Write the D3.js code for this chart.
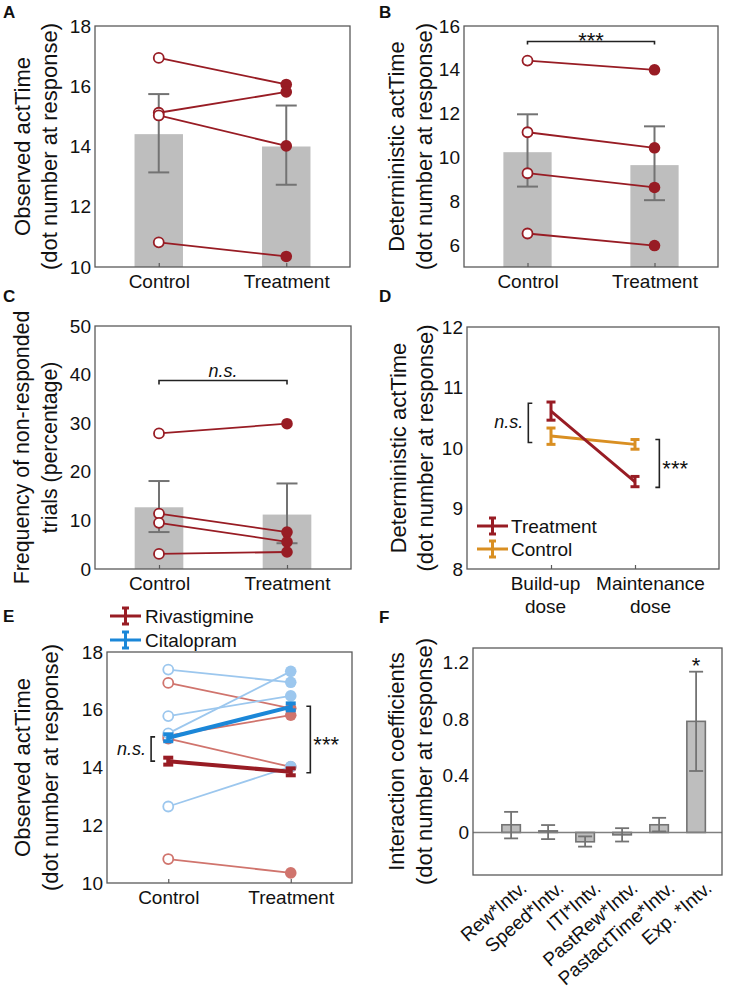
<!DOCTYPE html>
<html><head><meta charset="utf-8">
<script src="https://cdn.jsdelivr.net/npm/d3@7"></script>
<style>body{margin:0;background:#fff}</style>
</head><body><svg id="c" width="732" height="992"></svg>
<script>
// ---------------- DATA ----------------
const groups = ["Control", "Treatment"];
// Panel A
const aMean = [14.41, 14.0], aHi = [15.74, 15.36], aLo = [13.14, 12.73];
const aCtrl = [16.94, 15.12, 15.03, 10.82], aTreat = [16.06, 15.81, 14.02, 10.35];
const aTicks = [10, 12, 14, 16, 18];
// Panel B
const bMean = [10.24, 9.65], bHi = [11.97, 11.42], bLo = [8.67, 8.05];
const bCtrl = [14.42, 11.15, 9.28, 6.53], bTreat = [14.0, 10.44, 8.63, 5.98];
const bTicks = [6, 8, 10, 12, 14, 16];
const bSig = {level: 15.29, text: "***"};
// Panel C
const cMean = [12.7, 11.2], cHi = [18.1, 17.6], cLo = [7.6, 5.3];
const cCtrl = [27.9, 11.4, 9.5, 3.1], cTreat = [29.9, 7.6, 5.6, 3.5];
const cTicks = [0, 10, 20, 30, 40, 50];
const cSig = {level: 38.8, text: "n.s."};
// Panel D
const doses = [["Build-up", "dose"], ["Maintenance", "dose"]];
const dTreatMean = [10.61, 9.44], dTreatHi = [10.76, 9.53], dTreatLo = [10.46, 9.36];
const dCtrlMean = [10.20, 10.06], dCtrlHi = [10.33, 10.14], dCtrlLo = [10.06, 9.98];
const dTicks = [8, 9, 10, 11, 12];
const dLegend = ["Treatment", "Control"];
const dNs = {x: 0.73, lo: 10.09, hi: 10.74, text: "n.s."};
const dStar = {x: 2.29, lo: 9.35, hi: 10.14, text: "***"};
// Panel E
const eRivaCtrl = [16.93, 15.10, 15.00, 10.83], eRivaTreat = [16.05, 15.81, 14.02, 10.35];
const eCitaCtrl = [17.39, 15.78, 15.18, 12.65], eCitaTreat = [16.95, 16.48, 17.33, 14.03];
const eRivaMean = [14.22, 13.85], eCitaMean = [15.03, 16.10];
const eErr = 0.12;
const eTicks = [10, 12, 14, 16, 18];
const eLegend = ["Rivastigmine", "Citalopram"];
const eNs = {x: 0.86, lo: 14.22, hi: 15.06, text: "n.s."};
const eStar = {x: 2.16, lo: 13.82, hi: 16.12, text: "***"};
// Panel F
const fCats = ["Rew*Intv.", "Speed*Intv.", "ITI*Intv.", "PastRew*Intv.", "PastactTime*Intv.", "Exp. *Intv."];
const fVals = [0.054, 0.011, -0.066, -0.017, 0.054, 0.783];
const fHi = [0.145, 0.052, -0.028, 0.030, 0.103, 1.133];
const fLo = [-0.042, -0.047, -0.100, -0.064, 0.007, 0.433];
const fTicks = [0, 0.4, 0.8, 1.2];
const fTickLabels = ["0", "0.4", "0.8", "1.2"];
const fSigIdx = 5, fSigText = "*";

// ---------------- STYLE ----------------
const FONT = 19, LFONT = 22, SFONT = 22, NSFONT = 18;
const FAM = '"Liberation Sans", Arial, Helvetica, sans-serif';
const DARKRED = "#981c24", LIGHTRED = "#d0746d", LIGHTBLUE = "#9cc7ee", BLUE = "#1b87d8", ORANGE = "#d98f22";
const GREYBAR = "#bebebe", GREYERR = "#737373", BOXC = "#5a5a5a", TXT = "#111";

const svg = d3.select("#c").attr("font-family", FAM);

function scales(b, xDom, yDom) {
  return {x: d3.scaleLinear().domain(xDom).range([b.l, b.r]),
          y: d3.scaleLinear().domain(yDom).range([b.b, b.t])};
}
function box(b) {
  svg.append("rect").attr("x", b.l).attr("y", b.t).attr("width", b.r - b.l).attr("height", b.b - b.t)
    .attr("fill", "none").attr("stroke", BOXC).attr("stroke-width", 1.3);
}
function yAxis(b, y, ticks, fmt) {
  const g = svg.append("g").attr("transform", `translate(${b.l},0)`)
    .call(d3.axisLeft(y).tickValues(ticks).tickSize(0).tickPadding(4).tickFormat(fmt || d3.format("d")));
  g.select(".domain").remove();
  g.attr("font-size", FONT).attr("font-family", FAM);
  g.selectAll("text").attr("fill", TXT);
  return g;
}
function xAxis(b, x, ticks, fmt, tick) {
  const g = svg.append("g").attr("transform", `translate(0,${b.b})`)
    .call(d3.axisBottom(x).tickValues(ticks).tickSize(-tick).tickPadding(8).tickFormat(fmt));
  g.select(".domain").remove();
  g.attr("font-size", FONT).attr("font-family", FAM);
  g.selectAll("line").attr("stroke", BOXC).attr("stroke-width", 1.2);
  g.selectAll("text").attr("fill", TXT);
  return g;
}
function yLabel(lines, xs, b, fs) {
  const yc = (b.t + b.b) / 2;
  lines.forEach((t, i) => {
    svg.append("text").attr("transform", `translate(${xs[i]},${yc}) rotate(-90)`)
      .attr("text-anchor", "middle").attr("dominant-baseline", "central")
      .attr("font-size", fs || LFONT).attr("fill", TXT).text(t);
  });
}
function letter(t, x, y) {
  svg.append("text").attr("x", x).attr("y", y).attr("font-size", 17).attr("font-weight", "bold").attr("fill", TXT).text(t);
}
function errBar(g, x, lo, hi, cap, color, w) {
  g.append("line").attr("x1", x).attr("x2", x).attr("y1", lo).attr("y2", hi).attr("stroke", color).attr("stroke-width", w);
  [lo, hi].forEach(v => g.append("line").attr("x1", x - cap / 2).attr("x2", x + cap / 2).attr("y1", v).attr("y2", v)
    .attr("stroke", color).attr("stroke-width", w));
}
function hBracket(x1, x2, yv, tick, text, italic) {
  const g = svg.append("g");
  g.append("path").attr("d", `M${x1},${yv + tick}V${yv}H${x2}V${yv + tick}`).attr("fill", "none").attr("stroke", "#222").attr("stroke-width", 1.6);
  const t = g.append("text").attr("x", (x1 + x2) / 2).attr("text-anchor", "middle").attr("fill", TXT).text(text);
  if (italic) t.attr("y", yv - 3.5).attr("font-style", "italic").attr("font-size", NSFONT);
  else t.attr("y", yv + 6).attr("font-size", SFONT);
}
function vBracket(xv, y1, y2, dir, text, italic) {
  const tk = 4 * dir;
  svg.append("path").attr("d", `M${xv + tk},${y1}H${xv}V${y2}H${xv + tk}`).attr("fill", "none").attr("stroke", "#222").attr("stroke-width", 1.6);
  const ym = (y1 + y2) / 2;
  const t = svg.append("text").attr("fill", TXT).text(text);
  if (dir > 0) t.attr("x", xv - 5).attr("y", ym + 5.5).attr("text-anchor", "end");
  else t.attr("x", xv + 3).attr("y", ym + 12.5).attr("text-anchor", "start");
  if (italic) t.attr("font-style", "italic").attr("font-size", NSFONT); else t.attr("font-size", SFONT);
}

// ---------- Bar + paired dot panels (A, B, C) ----------
function pairedPanel(b, mean, hi, lo, ctrl, treat, yDom, ticks) {
  const {x, y} = scales(b, [0.5, 2.5], yDom);
  const g = svg.append("g");
  const bw = 0.19;
  mean.forEach((m, i) => {
    g.append("rect").attr("x", x(i + 1 - bw)).attr("width", x(i + 1 + bw) - x(i + 1 - bw))
      .attr("y", y(m)).attr("height", y(yDom[0]) - y(m)).attr("fill", GREYBAR);
  });
  mean.forEach((m, i) => errBar(g, x(i + 1), y(lo[i]), y(hi[i]), 21, GREYERR, 2));
  ctrl.forEach((c, k) => {
    g.append("line").attr("x1", x(1)).attr("x2", x(2)).attr("y1", y(c)).attr("y2", y(treat[k]))
      .attr("stroke", DARKRED).attr("stroke-width", 1.8);
  });
  ctrl.forEach(c => g.append("circle").attr("cx", x(1)).attr("cy", y(c)).attr("r", 5).attr("fill", "#fff").attr("stroke", DARKRED).attr("stroke-width", 1.8));
  treat.forEach(c => g.append("circle").attr("cx", x(2)).attr("cy", y(c)).attr("r", 5.8).attr("fill", DARKRED));
  box(b);
  yAxis(b, y, ticks);
  xAxis(b, x, [1, 2], (d, i) => groups[i], 4);
  return {x, y};
}

const bA = {l: 95, r: 350, t: 26, b: 267};
pairedPanel(bA, aMean, aHi, aLo, aCtrl, aTreat, [10, 18], aTicks);
yLabel(["Observed actTime", "(dot number at response)"], [22, 49], bA);
letter("A", 3, 18);

const bB = {l: 464, r: 718, t: 26, b: 267};
const sB = pairedPanel(bB, bMean, bHi, bLo, bCtrl, bTreat, [5, 16], bTicks);
hBracket(sB.x(1), sB.x(2), sB.y(bSig.level), 3, bSig.text, false);
yLabel(["Deterministic actTime", "(dot number at response)"], [396, 424], bB);
letter("B", 379, 18);

const bC = {l: 95, r: 351, t: 326, b: 569};
const sC = pairedPanel(bC, cMean, cHi, cLo, cCtrl, cTreat, [0, 50], cTicks);
hBracket(sC.x(1), sC.x(2), sC.y(cSig.level), 4, cSig.text, true);
yLabel(["Frequency of non-responded", "trials (percentage)"], [22, 50], bC, 21.3);
letter("C", 3, 302);

// ---------- Panel D ----------
const bD = {l: 467, r: 719, t: 327, b: 569};
(function () {
  const {x, y} = scales(bD, [0, 3], [8, 12]);
  const g = svg.append("g");
  const series = [
    {mean: dCtrlMean, hi: dCtrlHi, lo: dCtrlLo, c: ORANGE},
    {mean: dTreatMean, hi: dTreatHi, lo: dTreatLo, c: DARKRED}
  ];
  series.forEach(s => {
    g.append("path").attr("d", d3.line().x((d, i) => x(i + 1)).y(d => y(d))(s.mean))
      .attr("fill", "none").attr("stroke", s.c).attr("stroke-width", 3);
    s.mean.forEach((m, i) => errBar(g, x(i + 1), y(s.lo[i]), y(s.hi[i]), 9, s.c, 3));
  });
  const lc = [DARKRED, ORANGE];
  dLegend.forEach((t, i) => {
    const ly = 526 + i * 23;
    g.append("line").attr("x1", 477).attr("x2", 508).attr("y1", ly).attr("y2", ly).attr("stroke", lc[i]).attr("stroke-width", 3);
    errBar(g, 492.5, ly + 8, ly - 8, 7, lc[i], 3);
    g.append("text").attr("x", 511).attr("y", ly + 7).attr("font-size", FONT).attr("fill", TXT).text(t);
  });
  box(bD);
  yAxis(bD, y, dTicks);
  const xa = xAxis(bD, x, [1, 2], () => "", 4);
  xa.selectAll("text").each(function (d, i) {
    const t = d3.select(this).attr("dy", null).attr("y", 21);
    doses[i].forEach((s, k) => t.append("tspan").attr("x", 0).attr("dx", i === 0 ? -6 : 15).attr("dy", k === 0 ? 0 : 23).text(s));
  });
  vBracket(x(dNs.x), y(dNs.hi), y(dNs.lo), 1, dNs.text, true);
  vBracket(x(dStar.x), y(dStar.hi), y(dStar.lo), -1, dStar.text, false);
})();
yLabel(["Deterministic actTime", "(dot number at response)"], [398, 425], bD);
letter("D", 379, 302);

// ---------- Panel E ----------
const bE = {l: 107, r: 352, t: 652, b: 883};
(function () {
  const {x, y} = scales(bE, [0.5, 2.5], [10, 18]);
  const g = svg.append("g");
  const ind = [
    {c: eRivaCtrl, t: eRivaTreat, col: LIGHTRED},
    {c: eCitaCtrl, t: eCitaTreat, col: LIGHTBLUE}
  ];
  ind.forEach(s => s.c.forEach((v, k) => g.append("line").attr("x1", x(1)).attr("x2", x(2))
    .attr("y1", y(v)).attr("y2", y(s.t[k])).attr("stroke", s.col).attr("stroke-width", 1.8)));
  ind.forEach(s => {
    s.c.forEach(v => g.append("circle").attr("cx", x(1)).attr("cy", y(v)).attr("r", 5).attr("fill", "#fff").attr("stroke", s.col).attr("stroke-width", 1.8));
    s.t.forEach(v => g.append("circle").attr("cx", x(2)).attr("cy", y(v)).attr("r", 5.8).attr("fill", s.col));
  });
  const means = [{m: eRivaMean, c: DARKRED}, {m: eCitaMean, c: BLUE}];
  means.forEach(s => {
    g.append("path").attr("d", d3.line().x((d, i) => x(i + 1)).y(d => y(d))(s.m))
      .attr("fill", "none").attr("stroke", s.c).attr("stroke-width", 4);
    s.m.forEach((v, i) => errBar(g, x(i + 1), y(v - eErr), y(v + eErr), 10, s.c, 4));
  });
  const lc = [DARKRED, BLUE];
  eLegend.forEach((t, i) => {
    const ly = 616 + i * 24;
    g.append("line").attr("x1", 110).attr("x2", 141).attr("y1", ly).attr("y2", ly).attr("stroke", lc[i]).attr("stroke-width", 3);
    errBar(g, 125.5, ly + 8, ly - 8, 7, lc[i], 3);
    g.append("text").attr("x", 145).attr("y", ly + 7).attr("font-size", FONT).attr("fill", TXT).text(t);
  });
  box(bE);
  yAxis(bE, y, eTicks);
  xAxis(bE, x, [1, 2], (d, i) => groups[i], 4);
  vBracket(x(eNs.x), y(eNs.hi), y(eNs.lo), 1, eNs.text, true);
  vBracket(x(eStar.x), y(eStar.hi), y(eStar.lo), -1, eStar.text, false);
})();
yLabel(["Observed actTime", "(dot number at response)"], [22, 50], bE);
letter("E", 3, 622);

// ---------- Panel F ----------
const bF = {l: 473, r: 722, t: 648, b: 875};
(function () {
  const {x, y} = scales(bF, [-0.03, 6.7], [-0.3, 1.3]);
  const g = svg.append("g");
  const bw = 0.25;
  fVals.forEach((v, i) => {
    const y0 = Math.min(y(v), y(0)), h = Math.abs(y(v) - y(0));
    g.append("rect").attr("x", x(i + 1 - bw)).attr("width", x(i + 1 + bw) - x(i + 1 - bw))
      .attr("y", y0).attr("height", h).attr("fill", GREYBAR).attr("stroke", GREYERR).attr("stroke-width", 1.6);
  });
  g.append("line").attr("x1", bF.l).attr("x2", bF.r).attr("y1", y(0)).attr("y2", y(0)).attr("stroke", "#808080").attr("stroke-width", 1.6);
  fVals.forEach((v, i) => errBar(g, x(i + 1), y(fLo[i]), y(fHi[i]), 14, GREYERR, 1.8));
  g.append("text").attr("x", x(fSigIdx + 1)).attr("y", y(fHi[fSigIdx]) + 1.5).attr("text-anchor", "middle")
    .attr("font-size", SFONT).attr("fill", TXT).text(fSigText);
  box(bF);
  yAxis(bF, y, fTicks, (d, i) => fTickLabels[i]);
  const xa = xAxis(bF, x, [1, 2, 3, 4, 5, 6], (d, i) => fCats[i], 0);
  xa.selectAll("text").attr("y", 0).attr("dy", "0.35em").attr("text-anchor", "end")
    .attr("transform", "translate(12,10) rotate(-41)");
})();
yLabel(["Interaction coefficients", "(dot number at response)"], [396, 424], bF);
letter("F", 379, 623);
</script>
</body></html>
